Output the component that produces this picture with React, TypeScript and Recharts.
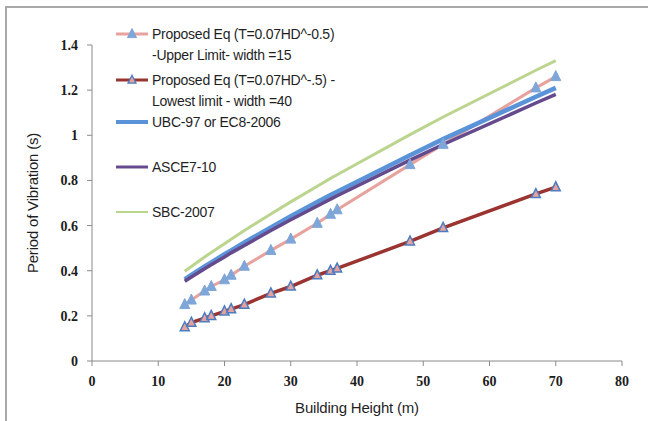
import { CartesianGrid, Line, LineChart, XAxis, YAxis } from "recharts";

// Building heights (m) and periods (s).
const heights = [14, 15, 17, 18, 20, 21, 23, 27, 30, 34, 36, 37, 48, 53, 67, 70];
const upperLimit = [0.25, 0.27, 0.31, 0.33, 0.36, 0.38, 0.42, 0.49, 0.54, 0.61, 0.65, 0.67, 0.87, 0.96, 1.21, 1.26];
const lowestLimit = [0.15, 0.17, 0.19, 0.2, 0.22, 0.23, 0.25, 0.3, 0.33, 0.38, 0.4, 0.41, 0.53, 0.59, 0.74, 0.77];
const ubcEc8 = [0.362, 0.381, 0.419, 0.437, 0.473, 0.49, 0.525, 0.592, 0.641, 0.704, 0.735, 0.75, 0.912, 0.983, 1.171, 1.21];
const asce = [0.353, 0.372, 0.409, 0.426, 0.461, 0.479, 0.512, 0.578, 0.626, 0.687, 0.717, 0.732, 0.89, 0.959, 1.143, 1.181];
const sbc = [0.398, 0.419, 0.461, 0.481, 0.52, 0.539, 0.578, 0.651, 0.705, 0.774, 0.809, 0.825, 1.003, 1.081, 1.288, 1.331];

const xTicks = [0, 10, 20, 30, 40, 50, 60, 70, 80];
const yTicks = [0, 0.2, 0.4, 0.6, 0.8, 1, 1.2, 1.4];

const rows = heights.map((h, i) => ({
  h,
  upper: upperLimit[i],
  lower: lowestLimit[i],
  ubc: ubcEc8[i],
  asce: asce[i],
  sbc: sbc[i],
}));

const PINK = "#e8a29e";
const DARK_RED = "#9a3431";
const BLUE = "#5a93d8";
const PURPLE = "#654b8e";
const GREEN = "#bcd58e";
const TRI_BLUE = "#7ea6d8";
const TRI_EDGE = "#4d7dc0";

const legendItems = [
  { lines: ["Proposed Eq (T=0.07HD^-0.5)", "-Upper Limit- width =15"], color: PINK, width: 3, tri: "upper", top: 24 },
  { lines: ["Proposed Eq (T=0.07HD^-.5) -", "Lowest limit - width =40"], color: DARK_RED, width: 3, tri: "lower", top: 70 },
  { lines: ["UBC-97 or EC8-2006"], color: BLUE, width: 4, tri: "", top: 112 },
  { lines: ["ASCE7-10"], color: PURPLE, width: 3, tri: "", top: 157 },
  { lines: ["SBC-2007"], color: GREEN, width: 2, tri: "", top: 202 },
];

function triPoints(cx: number, cy: number, s: number) {
  return `${cx},${cy - s * 0.6} ${cx - s / 2},${cy + s * 0.4} ${cx + s / 2},${cy + s * 0.4}`;
}

const upperDot = (p: any) => (
  <polygon key={`u${p.index}`} points={triPoints(p.cx, p.cy, 10)} fill={TRI_BLUE} stroke={TRI_BLUE} strokeWidth={1} />
);
const lowerDot = (p: any) => (
  <polygon key={`l${p.index}`} points={triPoints(p.cx, p.cy, 9)} fill={PINK} stroke={TRI_EDGE} strokeWidth={1.5} />
);

const tickStyle = { fontFamily: "'Liberation Serif', serif", fontWeight: 700, fontSize: 14, fill: "#1c1c1c" };
const labelFont = "'Liberation Sans', sans-serif";

export default function App() {
  return (
    <div style={{ position: "absolute", left: 0, top: 0, width: 648, height: 421, overflow: "hidden", background: "#fff" }}>
      <div
        style={{
          position: "absolute",
          left: 5,
          top: 6,
          width: 700,
          height: 500,
          borderLeft: "2px solid #a9a9a9",
          borderTop: "2px solid #a9a9a9",
        }}
      />
      <LineChart width={648} height={421} data={rows} margin={{ top: 45, right: 26, bottom: 0, left: 0 }}>
        <CartesianGrid stroke="none" />
        <XAxis
          dataKey="h"
          type="number"
          domain={[0, 80]}
          ticks={xTicks}
          height={60}
          tick={tickStyle}
          tickSize={5}
          tickMargin={10}
          stroke="#8a8a8a"
          label={{
            value: "Building Height  (m)",
            position: "insideBottom",
            offset: 8,
            style: { fontFamily: labelFont, fontSize: 15, letterSpacing: -0.2, fill: "#1f1f1f" },
          }}
        />
        <YAxis
          type="number"
          domain={[0, 1.4]}
          ticks={yTicks}
          width={92}
          tick={tickStyle}
          tickSize={5}
          tickMargin={9}
          stroke="#8a8a8a"
          label={{
            value: "Period of Vibration (s)",
            angle: -90,
            position: "insideLeft",
            offset: 33,
            style: { fontFamily: labelFont, fontSize: 15, letterSpacing: -0.2, fill: "#1f1f1f", textAnchor: "middle" },
          }}
        />
        <Line dataKey="upper" type="linear" stroke={PINK} strokeWidth={3} dot={upperDot} isAnimationActive={false} />
        <Line dataKey="lower" type="linear" stroke={DARK_RED} strokeWidth={3.5} dot={lowerDot} isAnimationActive={false} />
        <Line dataKey="ubc" type="linear" stroke={BLUE} strokeWidth={4.5} dot={false} isAnimationActive={false} />
        <Line dataKey="asce" type="linear" stroke={PURPLE} strokeWidth={3.5} dot={false} isAnimationActive={false} />
        <Line dataKey="sbc" type="linear" stroke={GREEN} strokeWidth={3} dot={false} isAnimationActive={false} />
      </LineChart>
      {legendItems.map((it) => (
        <div key={it.lines[0]} style={{ position: "absolute", left: 114, top: it.top }}>
          <svg width={36} height={20} style={{ position: "absolute", left: 0, top: 0 }}>
            <line x1={2} y1={10} x2={34} y2={10} stroke={it.color} strokeWidth={it.width} />
            {it.tri === "upper" && <polygon points={triPoints(18, 10, 9)} fill={TRI_BLUE} stroke={TRI_BLUE} />}
            {it.tri === "lower" && <polygon points={triPoints(18, 10, 8)} fill={PINK} stroke={TRI_EDGE} strokeWidth={1.3} />}
          </svg>
          <div
            style={{
              position: "absolute",
              left: 38,
              top: 0,
              whiteSpace: "nowrap",
              fontFamily: labelFont,
              fontSize: 14,
              letterSpacing: -0.25,
              lineHeight: "21px",
              color: "#1f1f1f",
            }}
          >
            {it.lines.map((t) => (
              <div key={t}>{t}</div>
            ))}
          </div>
        </div>
      ))}
    </div>
  );
}
